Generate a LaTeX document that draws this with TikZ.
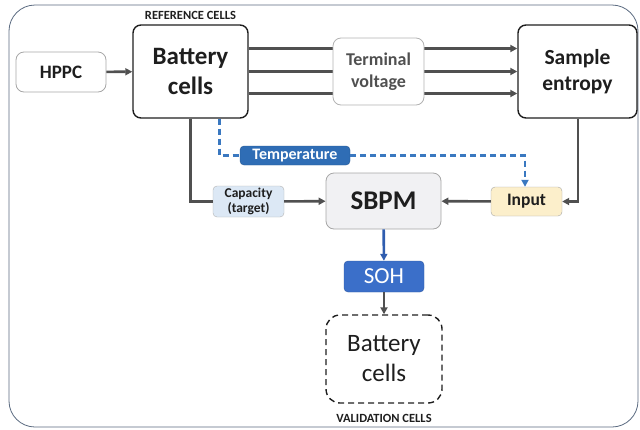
\documentclass[tikz,border=0pt]{standalone}
\usepackage{fontspec}
\setmainfont{Carlito}
\usetikzlibrary{arrows.meta}
\definecolor{linegray}{HTML}{505050}
\definecolor{tempblue}{HTML}{2F6DB5}
\definecolor{sohblue}{HTML}{3B6FC9}
\definecolor{sbpmarrow}{HTML}{2F5DAF}
\definecolor{dashblue}{HTML}{3A78C0}
\definecolor{capfill}{HTML}{DCE8F5}
\definecolor{sbpmfill}{HTML}{F1F1F3}
\definecolor{inputfill}{HTML}{FCEFCB}
\definecolor{framecol}{HTML}{5A6A80}
\definecolor{txt}{HTML}{1E1E1E}
\definecolor{termtxt}{HTML}{505050}
\tikzset{
  box/.style={draw, rounded corners=8pt, align=center, text=txt, inner sep=0pt},
  conn/.style={draw=linegray, line width=2.6pt},
  arr/.style={conn, -{Triangle[length=7pt,width=7pt]}},
  bluedash/.style={draw=dashblue, line width=2.4pt, dash pattern=on 6pt off 4pt},
  bluedasharr/.style={bluedash, -{Triangle[length=7pt,width=7pt]}},
  cap label/.style={font=\bfseries\fontsize{12.5}{14}\selectfont, text=txt},
}
\begin{document}
\begin{tikzpicture}[x=1pt,y=-1pt]
\useasboundingbox (0,0) rectangle (640,429);
\draw[framecol, line width=0.8pt, rounded corners=26pt] (9,5) rectangle (638,427);

\node[box, draw=gray!70, line width=0.8pt, minimum width=90pt, minimum height=40pt, font=\bfseries\fontsize{19}{22}\selectfont] (hppc) at (61,72) {HPPC};
\node[box, draw=txt, line width=1.4pt, minimum width=115pt, minimum height=93pt, font=\bfseries\fontsize{25}{30}\selectfont] (bat) at (190.5,71.5) {Battery\\cells};
\node[cap label] (reflab) at (190.5,15) {REFERENCE CELLS};
\node[box, draw=txt, line width=1.4pt, minimum width=119pt, minimum height=93pt, font=\bfseries\fontsize{21.5}{26}\selectfont] (samp) at (577.5,71.5) {Sample\\entropy};

\draw[arr] (hppc) -- (bat);
\draw[arr] ([yshift=23pt]bat.east) -- ([yshift=23pt]samp.west);
\draw[arr] (bat.east) -- (samp.west);
\draw[arr] ([yshift=-22pt]bat.east) -- ([yshift=-22pt]samp.west);

\node[box, draw=gray!60, line width=0.8pt, fill=white, minimum width=91pt, minimum height=67pt, text=termtxt, font=\bfseries\fontsize{18}{22}\selectfont] (term) at (378.5,71.5) {Terminal\\voltage};

\node[box, draw=tempblue!80!black, fill=tempblue, rounded corners=4pt, minimum width=110pt, minimum height=19pt, text=white, font=\bfseries\fontsize{16}{18}\selectfont] (temp) at (295,155.5) {Temperature};
\node[box, draw=gray!60, fill=capfill, rounded corners=4pt, minimum width=71pt, minimum height=31pt, font=\bfseries\fontsize{13.5}{14.5}\selectfont] (cap) at (248.5,201.5) {Capacity\\(target)};
\node[box, draw=gray!70, line width=0.8pt, fill=sbpmfill, minimum width=115pt, minimum height=56pt, font=\bfseries\fontsize{27}{30}\selectfont] (sbpm) at (383.5,201) {SBPM};
\node[box, draw=gray!70, fill=inputfill, rounded corners=4pt, minimum width=71pt, minimum height=29pt, font=\bfseries\fontsize{17.5}{20}\selectfont] (inp) at (526.5,201.5) {Input};
\node[box, draw=sohblue!80!black, fill=sohblue, rounded corners=4pt, minimum width=80pt, minimum height=31pt, text=white, font=\fontsize{23}{26}\selectfont] (soh) at (384,276.5) {SOH};
\node[box, draw=txt, line width=1.4pt, dash pattern=on 6pt off 4pt, rounded corners=14pt, minimum width=116pt, minimum height=88pt, font=\fontsize{25}{30}\selectfont] (val) at (384,359) {Battery\\cells};
\node[cap label] (vallab) at (384,418) {VALIDATION CELLS};

\draw[conn] (bat.south) |- (cap.west);
\draw[arr] (cap) -- (sbpm);
\draw[bluedash] ([xshift=29pt]bat.south) |- (temp.west);
\coordinate (tcorner) at (525,155.5);
\draw[bluedasharr] (temp.east) -- (tcorner) -- (inp.north -| tcorner);
\draw[arr] ([xshift=0.5pt]samp.south) |- (inp.east);
\draw[arr] (inp) -- (sbpm);
\draw[conn, draw=sbpmarrow, -{Triangle[length=7pt,width=7pt]}] (sbpm) -- (soh);
\draw[arr] (soh) -- (val);
\end{tikzpicture}
\end{document}
